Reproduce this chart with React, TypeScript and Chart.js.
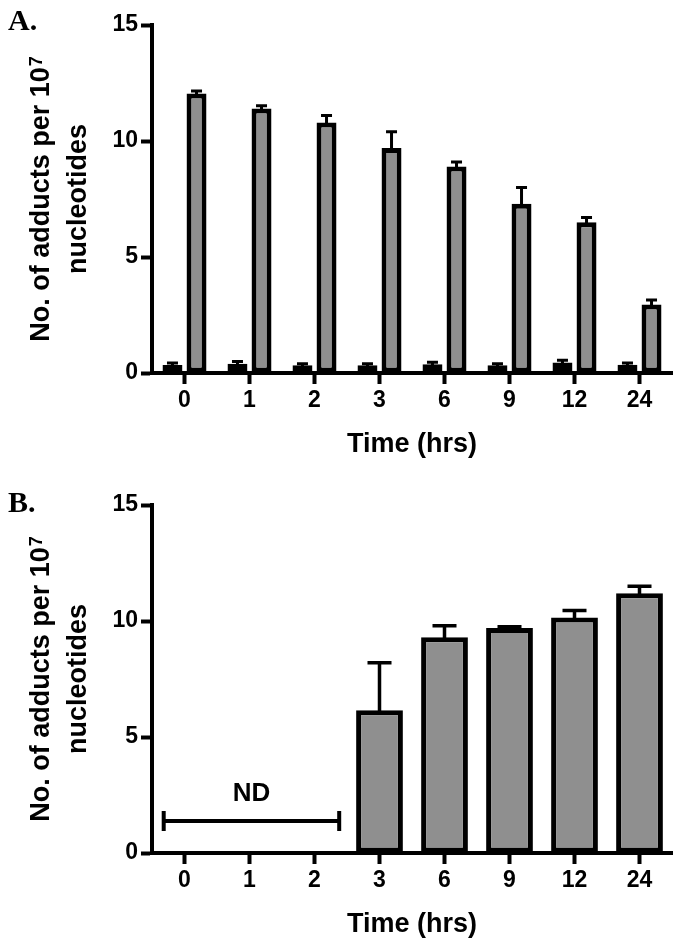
import React, { useEffect, useRef } from "react";
import { Chart, registerables } from "chart.js";

Chart.register(...registerables);

// ---------- data ----------
const timeLabels = ["0", "1", "2", "3", "6", "9", "12", "24"];
const yTickValues = [0, 5, 10, 15];

// Panel A: two series (black = control, grey = treated)
const aBlackValues = [0.35, 0.4, 0.33, 0.33, 0.38, 0.33, 0.45, 0.36];
const aBlackErrors = [0.08, 0.1, 0.07, 0.07, 0.08, 0.07, 0.1, 0.07];
const aGreyValues = [12.05, 11.4, 10.8, 9.7, 8.9, 7.3, 6.5, 2.95];
const aGreyErrors = [0.1, 0.12, 0.3, 0.7, 0.2, 0.7, 0.2, 0.2];

// Panel B: single series, first three not detected
const bValues = [null, null, null, 6.15, 9.3, 9.7, 10.15, 11.2];
const bErrors = [null, null, null, 2.05, 0.5, 0.05, 0.3, 0.3];
const ndLabel = "ND";
const ndRange = [-0.32, 2.38];
const ndLevel = 1.38;
const ndCap = 0.43;

const xTitle = "Time (hrs)";
const yTitleMain = "No. of adducts per 10";
const yTitleSup = "7";
const yTitleLine2 = "nucleotides";

// ---------- styles ----------
const FONT = "'Liberation Sans', Arial, Helvetica, sans-serif";
const SERIF = "'Liberation Serif', 'Times New Roman', serif";
const GREY = "#8f8f8f";

const errorBarPlugin = {
  id: "errorBars",
  afterDatasetsDraw(chart: any) {
    const ctx = chart.ctx;
    const ys = chart.scales.y;
    chart.data.datasets.forEach((ds: any, di: number) => {
      if (!ds.errors) return;
      const meta = chart.getDatasetMeta(di);
      meta.data.forEach((bar: any, i: number) => {
        const v = ds.data[i];
        const e = ds.errors[i];
        if (v == null || e == null) return;
        const yTop = ys.getPixelForValue(v + e);
        const x = bar.x;
        const cap = ds.errorCap || 10;
        ctx.save();
        ctx.strokeStyle = "#000";
        ctx.lineWidth = ds.errorWidth || 3;
        ctx.lineCap = "butt";
        ctx.beginPath();
        ctx.moveTo(x, bar.y + 2);
        ctx.lineTo(x, yTop);
        ctx.moveTo(x - cap / 2, yTop);
        ctx.lineTo(x + cap / 2, yTop);
        ctx.stroke();
        ctx.restore();
      });
    });
  },
};

const decorPlugin = {
  id: "decor",
  afterDraw(chart: any, _args: any, opts: any) {
    const { ctx, chartArea } = chart;
    ctx.save();
    ctx.fillStyle = "#000";
    // panel letter
    ctx.font = `bold 30px ${SERIF}`;
    ctx.textAlign = "left";
    ctx.textBaseline = "alphabetic";
    ctx.fillText(opts.letter, 8, opts.letterY);
    // y axis title (rotated, two lines, superscript)
    const cy = (chartArea.top + chartArea.bottom) / 2;
    const mainFont = `bold 27px ${FONT}`;
    const supFont = `bold 18px ${FONT}`;
    ctx.font = mainFont;
    const w1 = ctx.measureText(yTitleMain).width;
    ctx.font = supFont;
    const w2 = ctx.measureText(yTitleSup).width;
    const total = w1 + w2 + 1;
    ctx.translate(49, cy);
    ctx.rotate(-Math.PI / 2);
    ctx.font = mainFont;
    ctx.textAlign = "left";
    ctx.fillText(yTitleMain, -total / 2, 0);
    ctx.font = supFont;
    ctx.fillText(yTitleSup, -total / 2 + w1 + 1, -7);
    ctx.font = mainFont;
    ctx.textAlign = "center";
    ctx.fillText(yTitleLine2, 0, 37);
    ctx.restore();
  },
};

const ndPlugin = {
  id: "ndBracket",
  afterDatasetsDraw(chart: any, _args: any, opts: any) {
    if (!opts || !opts.show) return;
    const ctx = chart.ctx;
    const xs = chart.scales.x;
    const ys = chart.scales.y;
    const x1 = xs.getPixelForValue(ndRange[0]);
    const x2 = xs.getPixelForValue(ndRange[1]);
    const y = ys.getPixelForValue(ndLevel);
    const yA = ys.getPixelForValue(ndLevel + ndCap);
    const yB = ys.getPixelForValue(ndLevel - ndCap);
    ctx.save();
    ctx.strokeStyle = "#000";
    ctx.lineWidth = 4;
    ctx.beginPath();
    ctx.moveTo(x1, y);
    ctx.lineTo(x2, y);
    ctx.moveTo(x1, yA);
    ctx.lineTo(x1, yB);
    ctx.moveTo(x2, yA);
    ctx.lineTo(x2, yB);
    ctx.stroke();
    ctx.fillStyle = "#000";
    ctx.font = `bold 26px ${FONT}`;
    ctx.textAlign = "center";
    ctx.textBaseline = "middle";
    ctx.fillText(ndLabel, (x1 + x2) / 2, y - 27);
    ctx.restore();
  },
};

function scales(xScaleHeight: number, titleBottomPad: number) {
  const tickFont = { family: FONT, size: 23, weight: "bold" as const };
  return {
    x: {
      type: "category" as const,
      offset: true,
      afterFit: (s: any) => {
        s.height = xScaleHeight;
      },
      ticks: { font: tickFont, color: "#000", padding: 3, autoSkip: false, maxRotation: 0 },
      grid: {
        display: true,
        drawOnChartArea: false,
        drawTicks: true,
        tickLength: 11,
        tickWidth: 4,
        tickColor: "#000",
        offset: false,
      },
      border: { display: true, color: "#000", width: 4, z: 1 },
      title: {
        display: true,
        text: xTitle,
        color: "#000",
        font: { family: FONT, size: 27, weight: "bold" as const },
        padding: { top: 0, bottom: titleBottomPad },
      },
    },
    y: {
      min: 0,
      max: 15,
      afterFit: (s: any) => {
        s.width = 152;
      },
      afterBuildTicks: (s: any) => {
        s.ticks = yTickValues.map((v) => ({ value: v }));
      },
      ticks: { font: tickFont, color: "#000", padding: 3 },
      grid: {
        display: true,
        drawOnChartArea: false,
        drawTicks: true,
        tickLength: 11,
        tickWidth: 4,
        tickColor: "#000",
      },
      border: { display: true, color: "#000", width: 4 },
    },
  };
}

function configA(): any {
  return {
    type: "bar",
    data: {
      labels: timeLabels,
      datasets: [
        {
          data: aBlackValues,
          errors: aBlackErrors,
          backgroundColor: "#000",
          borderColor: "#000",
          borderWidth: 5,
          borderSkipped: false,
          categoryPercentage: 0.74,
          barPercentage: 0.83,
          errorCap: 11,
          errorWidth: 3,
        },
        {
          data: aGreyValues,
          errors: aGreyErrors,
          backgroundColor: GREY,
          borderColor: "#000",
          borderWidth: 5,
          borderSkipped: false,
          categoryPercentage: 0.74,
          barPercentage: 0.83,
          errorCap: 11,
          errorWidth: 3,
        },
      ],
    },
    options: {
      responsive: false,
      animation: false,
      devicePixelRatio: 1,
      layout: { padding: { top: 25, right: 11, left: 0, bottom: 0 } },
      plugins: {
        legend: { display: false },
        tooltip: { enabled: false },
        decor: { letter: "A.", letterY: 30 },
        ndBracket: { show: false },
      },
      scales: scales(107, 19),
    },
    plugins: [errorBarPlugin, decorPlugin, ndPlugin],
  };
}

function configB(): any {
  return {
    type: "bar",
    data: {
      labels: timeLabels,
      datasets: [
        {
          data: bValues,
          errors: bErrors,
          backgroundColor: GREY,
          borderColor: "#000",
          borderWidth: 5,
          borderSkipped: false,
          categoryPercentage: 1,
          barPercentage: 0.72,
          errorCap: 24,
          errorWidth: 3.5,
        },
      ],
    },
    options: {
      responsive: false,
      animation: false,
      devicePixelRatio: 1,
      layout: { padding: { top: 25, right: 11, left: 0, bottom: 0 } },
      plugins: {
        legend: { display: false },
        tooltip: { enabled: false },
        decor: { letter: "B.", letterY: 32 },
        ndBracket: { show: true },
      },
      scales: scales(99, 11),
    },
    plugins: [errorBarPlugin, decorPlugin, ndPlugin],
  };
}

function Panel({ height, build, top }: { height: number; build: () => any; top: number }) {
  const ref = useRef<HTMLCanvasElement | null>(null);
  useEffect(() => {
    if (!ref.current) return;
    const chart = new Chart(ref.current, build());
    return () => chart.destroy();
  }, []);
  return (
    <canvas
      ref={ref}
      width={683}
      height={height}
      style={{ position: "absolute", left: 0, top, width: 683, height, display: "block" }}
    />
  );
}

export default function App() {
  return (
    <div
      style={{
        position: "absolute",
        left: 0,
        top: 0,
        width: 683,
        height: 952,
        overflow: "hidden",
        background: "#fff",
      }}
    >
      <Panel height={480} top={0} build={configA} />
      <Panel height={472} top={480} build={configB} />
    </div>
  );
}
